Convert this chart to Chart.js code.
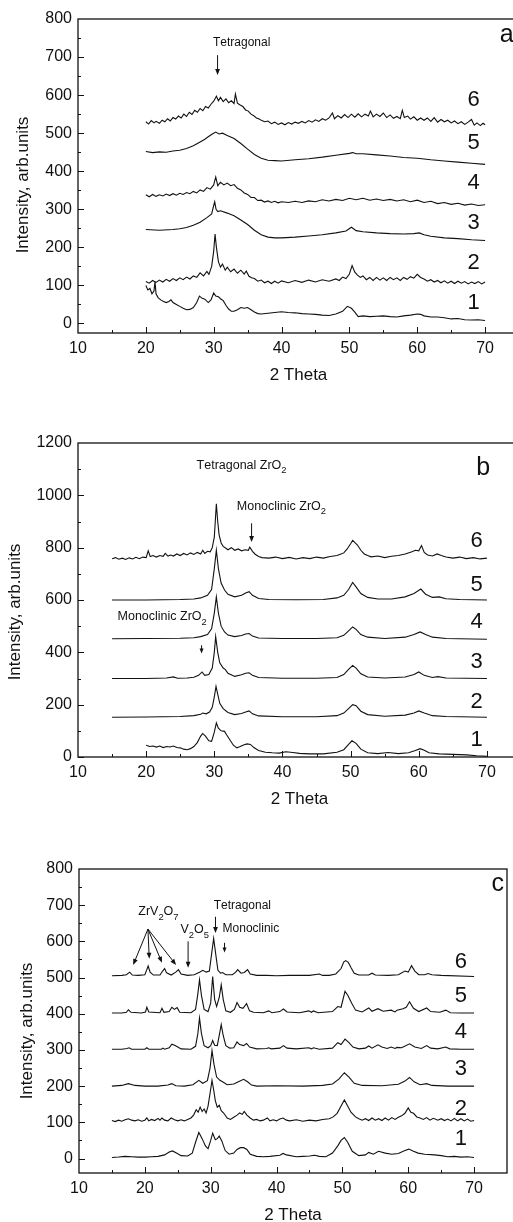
<!DOCTYPE html>
<html>
<head>
<meta charset="utf-8">
<script src="https://cdn.jsdelivr.net/npm/chart.js@4.4.0/dist/chart.umd.min.js"></script>
<style>
  html, body { margin: 0; padding: 0; background: #fff; overflow: hidden; width: 513px; height: 1222px; }
  .panel { position: absolute; left: 0; }
  canvas { display: block; }
</style>
</head>
<body>
<div class="panel" style="top:0px"><canvas id="chartA" width="530" height="400"></canvas></div>
<div class="panel" style="top:400px"><canvas id="chartB" width="530" height="410"></canvas></div>
<div class="panel" style="top:810px"><canvas id="chartC" width="530" height="412"></canvas></div>
<script>
// tick labels
const xTicks = [10, 20, 30, 40, 50, 60, 70];
const yTicksA = [0, 100, 200, 300, 400, 500, 600, 700, 800];
const yTicksB = [0, 200, 400, 600, 800, 1000, 1200];
const yTicksC = [0, 100, 200, 300, 400, 500, 600, 700, 800];
const curveNames = ['1', '2', '3', '4', '5', '6'];

// panel a: pairs of 2theta, intensity
const a1 = [20,100, 20.3,88, 20.6,92, 20.9,78, 21.2,85, 21.35,110, 21.5,78, 21.8,68, 22.2,62, 22.6,58, 23,55, 23.4,58, 23.7,62, 24,55, 24.5,50, 25,45, 25.5,40, 26,36, 26.5,37, 27,42, 27.5,55, 27.9,72, 28.3,66, 28.7,64, 29.2,55, 29.6,62, 30,80, 30.3,72, 30.7,70, 31,65, 31.4,60, 31.8,48, 32.2,38, 32.6,32, 33,32, 33.5,36, 34,42, 34.5,40, 35,42, 35.5,36, 36,30, 36.5,26, 37,25, 38,27, 39,29, 40,31, 41,29, 42,28, 43,26, 44,25, 45,24, 46,22, 47,21, 48,25, 49,32, 49.7,45, 50.3,40, 50.8,30, 51.3,18, 52,20, 53,18, 54,19, 55,20, 56,18, 57,17, 58,20, 59,22, 60,25, 60.5,24, 61,20, 62,17, 63,17, 64,15, 65,12, 66,13, 67,10, 68,9, 69,10, 70,8];
const a2 = [20,110, 20.5,106, 21,113, 21.5,108, 22,114, 22.5,109, 23,116, 23.5,111, 24,118, 24.5,113, 25,120, 25.5,115, 26,122, 26.5,117, 27,125, 27.5,121, 28,133, 28.5,125, 29,137, 29.3,129, 29.7,150, 30,190, 30.2,235, 30.4,200, 30.7,162, 31,148, 31.3,156, 31.7,140, 32,148, 32.5,136, 33,143, 33.5,132, 34,140, 34.5,130, 34.8,138, 35.2,124, 35.6,120, 36,118, 36.5,111, 37,114, 37.5,107, 38,111, 38.5,105, 39,111, 39.5,106, 40,112, 41,107, 42,113, 43,108, 44,114, 45,109, 46,115, 47,111, 48,117, 48.5,113, 49,122, 49.5,118, 50,130, 50.4,152, 50.8,135, 51.2,127, 51.6,121, 52,125, 52.5,115, 53,121, 53.5,113, 54,121, 54.5,114, 55,120, 55.5,113, 56,121, 56.5,115, 57,120, 57.5,113, 58,121, 58.5,116, 59,123, 59.5,119, 60,129, 60.5,121, 61,117, 61.5,111, 62,115, 62.5,109, 63,113, 63.5,107, 64,112, 64.5,106, 65,111, 65.5,105, 66,111, 66.5,106, 67,110, 67.5,104, 68,109, 68.5,105, 69,110, 69.5,104, 70,109];
const a3 = [20,247, 22,245, 24,247, 25,249, 26,252, 27,258, 28,266, 29,278, 29.7,288, 30,310, 30.15,320, 30.35,300, 30.6,294, 31,296, 32,290, 33,283, 34,272, 35,260, 36,245, 37,233, 38,227, 39,225, 40,225, 42,227, 44,230, 46,233, 48,238, 49.5,243, 50.3,253, 51,244, 52,241, 54,238, 56,236, 58,235, 59.5,236, 60.3,238, 61,233, 62,229, 64,225, 66,223, 68,220, 70,218];
const a4 = [20,338, 20.5,333, 21,339, 21.5,334, 22,338, 22.5,335, 23,340, 23.5,336, 24,341, 24.5,337, 25,342, 25.5,339, 26,344, 26.5,341, 27,347, 27.5,343, 28,351, 28.5,347, 29,357, 29.5,353, 30,364, 30.3,385, 30.6,362, 31,371, 31.5,364, 32,369, 32.5,362, 33,365, 33.5,355, 34,351, 34.5,343, 35,339, 35.5,331, 36,331, 36.5,323, 37,324, 37.5,319, 38,322, 38.5,318, 39,321, 39.5,317, 40,320, 41,318, 42,321, 43,318, 44,322, 45,320, 46,325, 47,322, 48,326, 49,323, 50,329, 51,325, 52,329, 53,324, 54,327, 55,323, 56,326, 57,322, 58,325, 59,320, 60,324, 61,318, 62,321, 63,315, 64,318, 65,313, 66,316, 67,311, 68,314, 69,310, 70,312];
const a5 = [20,452, 21,449, 22,451, 23,450, 24,453, 25,455, 26,460, 27,467, 28,477, 28.7,484, 29.3,492, 29.8,498, 30.3,503, 30.8,498, 31.3,500, 32,494, 33,486, 34,473, 35,458, 36,444, 37,434, 38,429, 39,428, 40,427, 42,430, 44,433, 46,437, 48,442, 50,447, 50.5,449, 51,446, 52,446, 54,443, 56,440, 58,436, 60,434, 62,430, 64,427, 66,424, 68,421, 70,418];
const a6 = [20,530, 20.4,524, 20.8,533, 21.2,527, 21.5,531, 22,526, 22.4,534, 22.8,530, 23.2,538, 23.6,532, 24,541, 24.4,537, 24.8,545, 25.2,540, 25.6,550, 26,544, 26.4,555, 26.8,549, 27.2,560, 27.6,555, 28,565, 28.4,559, 28.8,570, 29.2,566, 29.6,576, 30,584, 30.4,597, 30.7,585, 31,594, 31.4,583, 31.8,590, 32.2,580, 32.6,585, 33,578, 33.2,603, 33.5,579, 33.9,574, 34.3,570, 34.7,561, 35.1,558, 35.5,550, 35.9,546, 36.3,540, 36.7,537, 37.1,533, 37.5,530, 38,532, 38.5,525, 39,529, 39.5,523, 40,527, 40.5,522, 41,528, 41.5,524, 42,529, 42.5,526, 43,531, 43.5,527, 44,533, 44.5,529, 45,535, 45.5,531, 46,538, 46.5,534, 47,540, 47.5,553, 47.8,538, 48.3,546, 48.8,540, 49.3,549, 49.8,541, 50.3,550, 50.8,542, 51.3,551, 51.8,543, 52.3,550, 52.8,545, 53.1,558, 53.5,543, 54,550, 54.5,544, 55,553, 55.5,541, 56,548, 56.5,539, 57,544, 57.5,538, 57.8,560, 58.1,541, 58.6,545, 59,537, 59.5,543, 60,534, 60.5,540, 61,534, 61.5,540, 62,531, 62.5,541, 63,529, 63.5,536, 64,530, 64.5,534, 65,527, 65.5,532, 66,525, 66.5,530, 67,523, 67.5,529, 68,536, 68.4,521, 68.8,527, 69.3,520, 69.7,526, 70,522];

// panel b
const b1 = [20,45, 20.5,40, 21,42, 21.5,38, 22,42, 22.5,36, 23,40, 23.5,38, 24,42, 24.5,36, 25,35, 25.5,30, 26,28, 26.5,32, 27,40, 27.5,55, 28,80, 28.3,90, 28.7,80, 29.2,62, 29.6,60, 30,95, 30.3,130, 30.6,110, 31,100, 31.5,98, 31.8,85, 32.3,65, 32.8,45, 33.3,35, 33.8,40, 34.3,46, 34.8,50, 35.3,48, 35.8,36, 36.5,25, 37.5,18, 38.5,16, 39.5,15, 40.5,20, 41.5,17, 42.5,14, 44,12, 46,12, 48,18, 49,28, 49.7,48, 50.2,62, 50.8,52, 51.5,30, 52.5,16, 54,13, 55.5,17, 57,13, 58.5,16, 59.5,25, 60.2,32, 60.8,26, 61.5,16, 63,12, 65,10, 67,8, 68.5,5, 70,3];
const b2 = [15,152, 20,153, 25,155, 27,158, 28,163, 28.3,168, 28.8,165, 29.3,172, 29.7,190, 30,230, 30.25,270, 30.5,240, 30.8,205, 31.3,185, 32,170, 33,162, 34,166, 34.6,172, 35.1,176, 35.6,165, 36.5,157, 40,154, 45,154, 48,158, 49,168, 49.7,185, 50.3,200, 50.8,196, 51.5,175, 52.5,162, 55,156, 58,160, 59.3,168, 60,176, 60.8,168, 62,158, 64,155, 70,152];
const b3 = [15,300, 20,300, 23,302, 24,306, 24.6,301, 26,302, 27,305, 27.7,312, 28.2,325, 28.6,312, 29.2,315, 29.7,340, 30,400, 30.2,460, 30.5,400, 30.8,360, 31.3,340, 31.6,335, 32,320, 33,308, 34,314, 34.6,320, 35.1,322, 35.6,312, 36.5,304, 40,301, 45,301, 48,304, 49,315, 49.7,335, 50.3,350, 50.8,340, 51.5,318, 52.5,306, 55,302, 58,306, 59.3,315, 60,325, 60.8,312, 62,304, 62.8,307, 64,302, 70,300];
const b4 = [15,452, 20,453, 25,454, 27,456, 28,460, 29,468, 29.6,490, 30,550, 30.3,612, 30.6,550, 31,500, 31.5,478, 32,466, 33,460, 34,464, 34.6,470, 35.1,472, 35.6,462, 36.5,455, 40,453, 45,453, 48,456, 49,465, 49.7,482, 50.3,497, 50.8,488, 51.5,468, 52.5,458, 55,453, 58,458, 59.3,468, 60.2,478, 61,468, 62,458, 64,453, 70,450];
const b5 = [15,600, 20,600, 25,602, 27,604, 28,608, 29,618, 29.6,640, 30,720, 30.3,790, 30.6,720, 31,665, 31.5,638, 32,622, 33,612, 34,618, 34.6,627, 35.1,632, 35.6,618, 36.5,606, 38,602, 42,601, 46,602, 48,608, 49,618, 49.7,640, 50.3,667, 50.8,650, 51.5,625, 52.5,610, 54,604, 56,604, 58,612, 59.3,625, 60.3,642, 61,622, 62,610, 63,612, 64,605, 66,602, 70,600];
const b6 = [15,758, 15.5,762, 16,756, 16.5,760, 17,755, 17.5,761, 18,757, 18.5,763, 19,758, 19.5,764, 20,762, 20.3,788, 20.6,766, 21,770, 21.5,764, 22,770, 22.5,767, 22.8,778, 23.2,768, 23.6,772, 24,768, 24.5,776, 25,770, 25.5,778, 26,772, 26.5,780, 27,774, 27.5,782, 28,776, 28.3,790, 28.6,778, 29,786, 29.4,784, 29.7,800, 30,840, 30.3,968, 30.5,900, 30.7,850, 31,818, 31.3,805, 31.7,798, 32,792, 32.5,800, 33,790, 33.5,795, 34,788, 34.5,792, 35,790, 35.2,802, 35.6,786, 36,775, 36.5,766, 37,762, 38,760, 39,764, 40,758, 41,763, 42,757, 43,762, 44,758, 45,764, 46,760, 47,766, 48,770, 48.5,775, 49,780, 49.5,795, 50,815, 50.3,828, 50.6,820, 51,810, 51.5,790, 52,776, 52.5,770, 53,765, 54,768, 55,762, 56,767, 57,770, 58,776, 59,784, 59.5,790, 60,788, 60.4,808, 60.8,782, 61.3,772, 62,768, 62.7,776, 63.3,770, 64,764, 65,760, 66,764, 67,758, 68,762, 69,757, 70,760];

// panel c
const c1 = [15,3, 16,4, 17,6, 18,5, 19,4, 20,4, 21,5, 22,6, 23,10, 23.7,18, 24.2,21, 24.8,15, 25.5,8, 26.5,7, 27.2,15, 27.7,45, 28.2,72, 28.7,55, 29.2,35, 29.6,27, 30,50, 30.3,70, 30.7,52, 31,55, 31.3,62, 31.7,48, 32.2,22, 32.8,12, 33.5,15, 34,25, 34.5,30, 35,30, 35.5,25, 36,12, 37,6, 38,5, 39,6, 40.5,9, 41,14, 41.5,10, 43,5, 44,6, 45,7, 45.8,9, 46.5,6, 47.5,5, 48.5,15, 49.3,35, 49.8,50, 50.3,58, 50.8,45, 51.5,20, 52.5,8, 53.5,10, 54,17, 54.7,12, 55.5,20, 56.5,15, 57.5,12, 58.5,14, 59.5,22, 60.1,26, 60.8,20, 61.5,15, 62.5,12, 64,10, 65,8, 66,5, 67,6, 68,4, 69,5, 70,3];
const c2 = [15,105, 15.5,102, 16,106, 16.5,103, 17,107, 17.5,110, 18,106, 18.5,104, 19,107, 19.5,103, 20,106, 20.3,112, 20.6,104, 21,108, 21.5,105, 22,111, 22.3,106, 22.6,112, 23,106, 23.5,104, 24,112, 24.5,107, 25,104, 25.5,107, 26,104, 26.5,108, 27,112, 27.4,120, 27.8,135, 28.1,128, 28.4,142, 28.7,130, 29,137, 29.3,126, 29.6,145, 29.9,180, 30.2,216, 30.45,190, 30.7,160, 31,142, 31.3,147, 31.6,132, 32,125, 32.5,112, 33,108, 33.5,114, 34,120, 34.4,126, 34.8,122, 35.1,130, 35.5,120, 36,112, 36.5,106, 37,108, 37.5,104, 38,106, 38.6,112, 39,104, 39.5,107, 40,104, 40.5,109, 41,112, 41.5,106, 42,104, 43,107, 44,103, 45,106, 46,104, 47,108, 48,110, 48.6,115, 49.2,125, 49.8,145, 50.3,162, 50.8,145, 51.3,128, 52,115, 52.5,110, 53,106, 53.5,110, 54,105, 54.5,112, 55,106, 55.5,110, 56,105, 56.5,112, 57,106, 57.5,113, 58,108, 58.5,114, 59,118, 59.5,125, 60,140, 60.4,128, 60.8,125, 61.3,115, 61.8,112, 62.3,108, 62.8,113, 63.3,106, 63.8,111, 64.5,106, 65,110, 65.5,105, 66,109, 66.5,104, 67,111, 67.5,104, 68,110, 68.5,104, 69,109, 69.5,103, 70,105];
const c3 = [15,200, 16.5,202, 17.5,207, 18.5,202, 20,200, 22,200, 23.5,203, 24.1,207, 24.7,201, 26,200, 27.3,204, 28.2,216, 28.8,208, 29.5,215, 29.9,250, 30.2,298, 30.5,260, 30.9,225, 31.4,216, 31.8,212, 32.5,204, 33.5,206, 34.3,213, 35,219, 35.6,212, 36.2,203, 37,200, 40,201, 44,200, 47,202, 48.5,206, 49.5,220, 50.3,237, 51,225, 51.8,208, 53,202, 56,201, 58.5,205, 59.5,214, 60.2,224, 60.9,212, 61.8,204, 62.8,207, 63.6,202, 66,200, 70,200];
const c4 = [15,302, 16.5,302, 17.3,304, 17.6,306, 18,302, 20,302, 20.3,306, 20.6,302, 22.5,302, 22.75,305, 23,302, 23.7,306, 24.1,316, 24.6,312, 25,308, 25.5,303, 27,302, 27.7,310, 28.05,345, 28.3,388, 28.6,345, 29,312, 29.6,306, 30,312, 30.3,326, 30.6,313, 31,312, 31.35,345, 31.6,370, 31.9,340, 32.3,312, 32.9,305, 33.5,306, 34,322, 34.4,315, 35,312, 35.45,318, 35.9,308, 37,303, 38.5,304, 38.8,306, 39.2,303, 40.5,305, 41.05,312, 41.6,305, 43,303, 44.9,306, 45.3,303, 45.6,306, 46.5,302, 48.5,305, 49.3,320, 49.8,315, 50.4,330, 51,320, 51.6,308, 52.5,303, 53.5,305, 54,311, 54.5,305, 55.4,314, 56,308, 56.8,304, 57.4,308, 58,304, 58.3,307, 59,306, 60.2,317, 61,308, 62,304, 62.8,312, 63.4,305, 64.5,303, 65.7,308, 66.3,303, 68,302, 70,302];
const c5 = [15,402, 16.5,402, 17.2,404, 17.5,411, 17.9,404, 19.5,402, 20.1,405, 20.3,418, 20.6,405, 22.3,403, 22.6,415, 22.9,404, 23.7,406, 24.1,418, 24.5,412, 24.9,417, 25.3,404, 27,403, 27.7,412, 28.05,455, 28.3,494, 28.6,450, 29,412, 29.6,406, 30,430, 30.3,503, 30.6,440, 30.9,420, 31.3,445, 31.6,480, 31.9,440, 32.3,408, 33,404, 33.6,412, 34,431, 34.4,418, 34.9,415, 35.45,428, 35.9,408, 36.5,404, 38,403, 38.8,408, 39.3,403, 40.5,406, 41.05,413, 41.6,405, 43.5,403, 44.9,408, 45.3,404, 45.6,408, 46.3,403, 48.5,406, 49.3,420, 49.8,418, 50.4,462, 50.8,452, 51.4,430, 52,410, 53,405, 54,416, 54.5,407, 55.4,414, 56.2,407, 57.4,410, 58,405, 58.3,410, 59.2,414, 59.7,418, 60.2,433, 60.8,415, 61.6,406, 62.8,416, 63.4,406, 64.8,404, 65.7,410, 66.4,403, 68,402, 70,402];
const c6 = [15,505, 16.5,506, 17.2,508, 17.7,515, 18.1,507, 19,506, 20,508, 20.3,522, 20.5,532, 20.8,515, 21.3,507, 22.3,507, 22.7,518, 23,525, 23.3,513, 24,507, 24.7,515, 25.1,522, 25.5,510, 26.5,506, 27.5,508, 28.3,515, 28.8,520, 29.3,515, 29.8,518, 30.1,560, 30.45,608, 30.8,560, 31.1,520, 31.5,512, 31.8,514, 32.3,508, 33.3,508, 33.8,515, 34.1,522, 34.6,512, 35.1,514, 35.6,522, 36,510, 37,506, 38.5,506, 40,505, 42,506, 45,506, 46.5,510, 47,506, 48,506, 49,510, 49.8,525, 50.2,543, 50.5,547, 50.9,542, 51.3,528, 51.8,512, 52.5,507, 54,507, 54.5,512, 55,507, 57,506, 58.5,508, 59.5,518, 60,515, 60.5,533, 61,518, 61.6,508, 62.5,508, 63,511, 63.6,508, 65,506, 70,503];

const FONT = '"Liberation Sans", Arial, Helvetica, sans-serif';

function toPoints(arr) {
    const pts = [];
    for (let i = 0; i < arr.length; i += 2) pts.push({x: arr[i], y: arr[i + 1]});
    return pts;
}

// text with '_' marking a subscript character
function drawRich(ctx, text, px, py, size) {
    let cx = px;
    for (let i = 0; i < text.length; i++) {
        let ch = text[i];
        let sub = false;
        if (ch === '_') { sub = true; ch = text[++i]; }
        ctx.font = (sub ? size * 0.75 : size) + 'px ' + FONT;
        ctx.fillText(ch, cx, sub ? py + size * 0.42 : py);
        cx += ctx.measureText(ch).width;
    }
}

function arrow(ctx, x1, y1, x2, y2, head) {
    const ang = Math.atan2(y2 - y1, x2 - x1);
    ctx.beginPath();
    ctx.moveTo(x1, y1);
    ctx.lineTo(x2 - Math.cos(ang) * head * 0.8, y2 - Math.sin(ang) * head * 0.8);
    ctx.stroke();
    ctx.beginPath();
    ctx.moveTo(x2, y2);
    ctx.lineTo(x2 - head * Math.cos(ang) + head * 0.4 * Math.sin(ang), y2 - head * Math.sin(ang) - head * 0.4 * Math.cos(ang));
    ctx.lineTo(x2 - head * Math.cos(ang) - head * 0.4 * Math.sin(ang), y2 - head * Math.sin(ang) + head * 0.4 * Math.cos(ang));
    ctx.closePath();
    ctx.fill();
}

const framePlugin = {
    id: 'frame',
    afterDatasetsDraw(chart, args, opts) {
        const {ctx, chartArea: {left, top, right, bottom}, scales: {x, y}} = chart;
        ctx.save();
        ctx.strokeStyle = '#111';
        ctx.fillStyle = '#111';
        ctx.lineWidth = 1.3;
        ctx.strokeRect(left, top, right - left, bottom - top);

        // inward ticks
        ctx.lineWidth = 1;
        ctx.beginPath();
        for (let v = 15; v < x.max; v += 5) {
            const px = Math.round(x.getPixelForValue(v)) + 0.5;
            const len = v % 10 === 0 ? 6 : 3;
            ctx.moveTo(px, bottom);
            ctx.lineTo(px, bottom - len);
        }
        for (let v = 0; v < y.max; v += opts.yStep / 2) {
            const py = Math.round(y.getPixelForValue(v)) + 0.5;
            const len = v % opts.yStep === 0 ? 6 : 3;
            ctx.moveTo(left, py);
            ctx.lineTo(left + len, py);
        }
        ctx.stroke();

        // axis titles
        ctx.textAlign = 'center';
        ctx.textBaseline = 'middle';
        ctx.font = '17px ' + FONT;
        ctx.fillText('2 Theta', (left + right) / 2, bottom + 42);
        ctx.save();
        ctx.translate(left - opts.yTitleDx, (top + bottom) / 2 + opts.yTitleDy);
        ctx.rotate(-Math.PI / 2);
        ctx.fillText('Intensity, arb.units', 0, 0);
        ctx.restore();

        // panel letter
        ctx.font = '25px ' + FONT;
        ctx.fillText(opts.letter[0], x.getPixelForValue(opts.letter[1]), y.getPixelForValue(opts.letter[2]));

        // curve numbers
        ctx.font = '22px ' + FONT;
        curveNames.forEach((name, i) => {
            ctx.fillText(name, x.getPixelForValue(opts.numX), y.getPixelForValue(opts.numY[i]));
        });

        // notes and arrows
        ctx.textAlign = 'left';
        opts.notes.forEach(n => {
            drawRich(ctx, n.text, x.getPixelForValue(n.x), y.getPixelForValue(n.y), n.size);
        });
        ctx.lineWidth = 1;
        opts.arrows.forEach(a => {
            arrow(ctx, x.getPixelForValue(a[0]), y.getPixelForValue(a[1]),
                x.getPixelForValue(a[2]), y.getPixelForValue(a[3]), a[4] || 6);
        });
        ctx.restore();
    }
};

function makePanel(id, series, yMin, yMax, yTicks, layout) {
    const ctx = document.getElementById(id).getContext('2d');
    return new Chart(ctx, {
        type: 'line',
        data: {
            datasets: series.map(s => ({
                data: toPoints(s),
                borderColor: '#111',
                borderWidth: 1.1,
                pointRadius: 0,
                tension: 0,
                fill: false
            }))
        },
        options: {
            responsive: false,
            animation: false,
            devicePixelRatio: 1,
            layout: {padding: layout.padding},
            plugins: {
                legend: {display: false},
                tooltip: {enabled: false},
                frame: layout.frame
            },
            scales: {
                x: {
                    type: 'linear',
                    min: 10,
                    max: 75,
                    grid: {display: false, drawTicks: false},
                    border: {display: false},
                    afterBuildTicks: s => { s.ticks = xTicks.map(v => ({value: v})); },
                    afterFit: s => { s.height = layout.xHeight; },
                    ticks: {
                        autoSkip: false,
                        maxRotation: 0,
                        padding: 6,
                        color: '#111',
                        font: {family: FONT, size: 16},
                        callback: v => String(v)
                    }
                },
                y: {
                    type: 'linear',
                    min: yMin,
                    max: yMax,
                    grid: {display: false, drawTicks: false},
                    border: {display: false},
                    afterBuildTicks: s => { s.ticks = yTicks.map(v => ({value: v})); },
                    afterFit: s => { s.width = layout.yWidth; },
                    ticks: {
                        autoSkip: false,
                        padding: 6,
                        color: '#111',
                        font: {family: FONT, size: 16},
                        callback: v => String(v)
                    }
                }
            }
        },
        plugins: [framePlugin]
    });
}

document.addEventListener('DOMContentLoaded', function () {
    makePanel('chartA', [a1, a2, a3, a4, a5, a6], -25, 800, yTicksA, {
        padding: {top: 19, left: 0, right: 11, bottom: 0},
        xHeight: 67,
        yWidth: 78,
        frame: {
            yStep: 100, yTitleDx: 55, yTitleDy: 9,
            letter: ['a', 73.2, 758],
            numX: 68.3, numY: [53, 159, 264, 369, 474, 587],
            notes: [{text: 'Tetragonal', x: 29.9, y: 737, size: 12}],
            arrows: [[30.57, 705, 30.57, 653, 6]]
        }
    });

    makePanel('chartB', [b1, b2, b3, b4, b5, b6], 0, 1200, yTicksB, {
        padding: {top: 43, left: 0, right: 9, bottom: 0},
        xHeight: 53,
        yWidth: 78,
        frame: {
            yStep: 200, yTitleDx: 63, yTitleDy: 12,
            letter: ['b', 69.45, 1103],
            numX: 68.5, numY: [64, 210, 363, 516, 656, 825],
            notes: [
                {text: 'Tetragonal ZrO_2', x: 27.4, y: 1115, size: 12.5},
                {text: 'Monoclinic ZrO_2', x: 33.3, y: 958, size: 12.5},
                {text: 'Monoclinic ZrO_2', x: 15.8, y: 535, size: 12.5}
            ],
            arrows: [[35.47, 893, 35.47, 822, 6], [28.13, 427, 28.13, 396, 5]]
        }
    });

    makePanel('chartC', [c1, c2, c3, c4, c5, c6], -40, 800, yTicksC, {
        padding: {top: 59, left: 0, right: 23, bottom: 0},
        xHeight: 49,
        yWidth: 79,
        frame: {
            yStep: 100, yTitleDx: 52, yTitleDy: 10,
            letter: ['c', 73.6, 758],
            numX: 68.0, numY: [53, 136, 248, 349, 448, 544],
            notes: [
                {text: 'ZrV_2O_7', x: 19.0, y: 682, size: 12.5},
                {text: 'V_2O_5', x: 25.4, y: 632, size: 12.5},
                {text: 'Tetragonal', x: 30.45, y: 698, size: 12},
                {text: 'Monoclinic', x: 31.8, y: 634, size: 12}
            ],
            arrows: [
                [20.47, 634, 18.23, 535, 6],
                [20.47, 634, 20.67, 552, 6],
                [20.47, 634, 22.6, 541, 6],
                [20.47, 634, 24.74, 535, 6],
                [26.57, 600, 26.57, 527, 6],
                [30.73, 668, 30.73, 623, 6],
                [32.1, 596, 32.1, 569, 5]
            ]
        }
    });
});
</script>
</body>
</html>
